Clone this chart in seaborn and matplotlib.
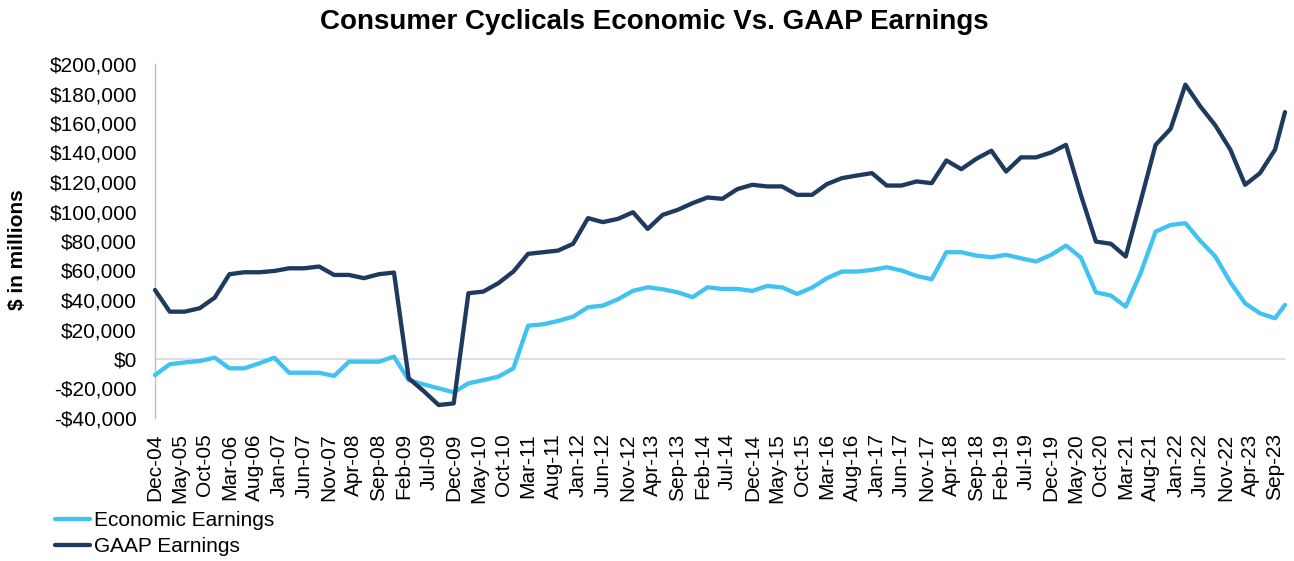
import matplotlib
matplotlib.use("Agg")
import matplotlib.pyplot as plt
import matplotlib.ticker as mticker
import numpy as np
import pandas as pd
import seaborn as sns

# quarter-end dates (last point is the latest reading)
DATES = [
    "2004-12",
    "2005-03", "2005-06", "2005-09", "2005-12",
    "2006-03", "2006-06", "2006-09", "2006-12",
    "2007-03", "2007-06", "2007-09", "2007-12",
    "2008-03", "2008-06", "2008-09", "2008-12",
    "2009-03", "2009-06", "2009-09", "2009-12",
    "2010-03", "2010-06", "2010-09", "2010-12",
    "2011-03", "2011-06", "2011-09", "2011-12",
    "2012-03", "2012-06", "2012-09", "2012-12",
    "2013-03", "2013-06", "2013-09", "2013-12",
    "2014-03", "2014-06", "2014-09", "2014-12",
    "2015-03", "2015-06", "2015-09", "2015-12",
    "2016-03", "2016-06", "2016-09", "2016-12",
    "2017-03", "2017-06", "2017-09", "2017-12",
    "2018-03", "2018-06", "2018-09", "2018-12",
    "2019-03", "2019-06", "2019-09", "2019-12",
    "2020-03", "2020-06", "2020-09", "2020-12",
    "2021-03", "2021-06", "2021-09", "2021-12",
    "2022-03", "2022-06", "2022-09", "2022-12",
    "2023-03", "2023-06", "2023-09", "2023-11",
]

# $ in millions
ECONOMIC = [
    -10900,
    -3600, -2300, -1400, 900,
    -6300, -6300, -2900, 900,
    -9300, -9300, -9300, -11500,
    -1800, -1800, -1800, 1600,
    -14300, -17200, -19900, -22600,
    -16500, -14300, -12000, -6300,
    22600, 23500, 25800, 28700,
    35100, 36200, 40500, 46200,
    48600, 47300, 45200, 41900,
    48600, 47500, 47500, 46200,
    49500, 48600, 44100, 48400,
    54800, 59300, 59300, 60400,
    62200, 60000, 56300, 54100,
    72400, 72400, 70100, 69000,
    70600, 68300, 66100, 70600,
    76900, 68800, 45200, 43000,
    35500, 58100, 86400, 90900,
    92100, 80100, 69500, 52000,
    37800, 31000, 27600, 36700,
]

GAAP = [
    46800,
    32100, 32100, 34400, 41600,
    57500, 58800, 58800, 59700,
    61500, 61500, 62700, 57000,
    57000, 54800, 57500, 58600,
    -13100, -21700, -31200, -30100,
    44600, 45700, 51400, 59300,
    71300, 72400, 73500, 78100,
    95500, 92800, 95000, 99500,
    88200, 97700, 101100, 105700,
    109500, 108600, 115200, 118100,
    117000, 117000, 111300, 111300,
    118600, 122600, 124400, 126000,
    117600, 117600, 120400, 119200,
    134600, 128700, 135700, 141200,
    127100, 136700, 136700, 140000,
    145200, 111300, 79600, 78100,
    69500, 106800, 145200, 156100,
    186000, 171300, 158400, 141900,
    118100, 126000, 141900, 167400,
]

TICK_LABELS = [
    "Dec-04", "May-05", "Oct-05", "Mar-06", "Aug-06", "Jan-07", "Jun-07", "Nov-07",
    "Apr-08", "Sep-08", "Feb-09", "Jul-09", "Dec-09", "May-10", "Oct-10", "Mar-11",
    "Aug-11", "Jan-12", "Jun-12", "Nov-12", "Apr-13", "Sep-13", "Feb-14", "Jul-14",
    "Dec-14", "May-15", "Oct-15", "Mar-16", "Aug-16", "Jan-17", "Jun-17", "Nov-17",
    "Apr-18", "Sep-18", "Feb-19", "Jul-19", "Dec-19", "May-20", "Oct-20", "Mar-21",
    "Aug-21", "Jan-22", "Jun-22", "Nov-22", "Apr-23", "Sep-23",
]

SERIES = ["Economic Earnings", "GAAP Earnings"]
COLORS = {"Economic Earnings": "#41c3f2", "GAAP Earnings": "#1f3a5f"}


def month_end(s, fmt):
    return pd.to_datetime(s, format=fmt) + pd.offsets.MonthEnd(0)


def main():
    dates = month_end(pd.Series(DATES), "%Y-%m")
    df = pd.concat([
        pd.DataFrame({"date": dates, "value": ECONOMIC, "series": SERIES[0]}),
        pd.DataFrame({"date": dates, "value": GAAP, "series": SERIES[1]}),
    ])

    sns.set_theme(style="white")
    plt.rcParams["font.family"] = ["Liberation Sans", "DejaVu Sans"]
    plt.rcParams["text.color"] = "black"

    fig = plt.figure(figsize=(12.94, 5.61), dpi=100)
    ax = fig.add_axes([155 / 1294, 1 - 418 / 561, (1285 - 155) / 1294, (418 - 64) / 561])

    ax.axhline(0, color="#d9d9d9", linewidth=1.2, zorder=1)
    sns.lineplot(data=df, x="date", y="value", hue="series", palette=COLORS,
                 hue_order=SERIES, linewidth=3.1, ax=ax, zorder=3)
    for line in ax.get_lines():
        line.set_clip_on(False)

    ax.set_ylim(-40000, 200000)
    ax.set_yticks(np.arange(-40000, 200001, 20000))
    ax.yaxis.set_major_formatter(mticker.FuncFormatter(
        lambda v, _: f"-${abs(v):,.0f}" if v < 0 else f"${v:,.0f}"))

    ticks = month_end(pd.Series(TICK_LABELS), "%b-%y")
    ax.set_xlim(dates.iloc[0], dates.iloc[-1])
    ax.set_xticks(ticks)
    ax.set_xticklabels(TICK_LABELS, rotation=90, va="top", ha="center")

    ax.tick_params(axis="y", length=0, pad=13, labelsize=15, labelcolor="black")
    ax.tick_params(axis="x", length=0, pad=11, labelsize=15, labelcolor="black")
    ax.set_xlabel("")
    ax.set_ylabel("")
    for side in ["top", "right", "bottom"]:
        ax.spines[side].set_visible(False)
    ax.spines["left"].set_color("#bfbfbf")
    ax.spines["left"].set_linewidth(1.0)

    fig.text(17.5 / 1294, 1 - 250 / 561, "$ in millions", rotation=90,
             ha="center", va="center", fontsize=15, fontweight="bold")
    fig.text(654 / 1294, 1 - 22 / 561, "Consumer Cyclicals Economic Vs. GAAP Earnings",
             ha="center", va="center", fontsize=20, fontweight="bold")

    ax.legend(loc="upper left", bbox_to_anchor=(55 / 1294, 1 - 511 / 561),
              bbox_transform=fig.transFigure, frameon=False, fontsize=15,
              handlelength=1.7, handletextpad=0.15, labelspacing=0.35, borderpad=0,
              borderaxespad=0)

    fig.savefig("out.png", dpi=100)


if __name__ == "__main__":
    main()
